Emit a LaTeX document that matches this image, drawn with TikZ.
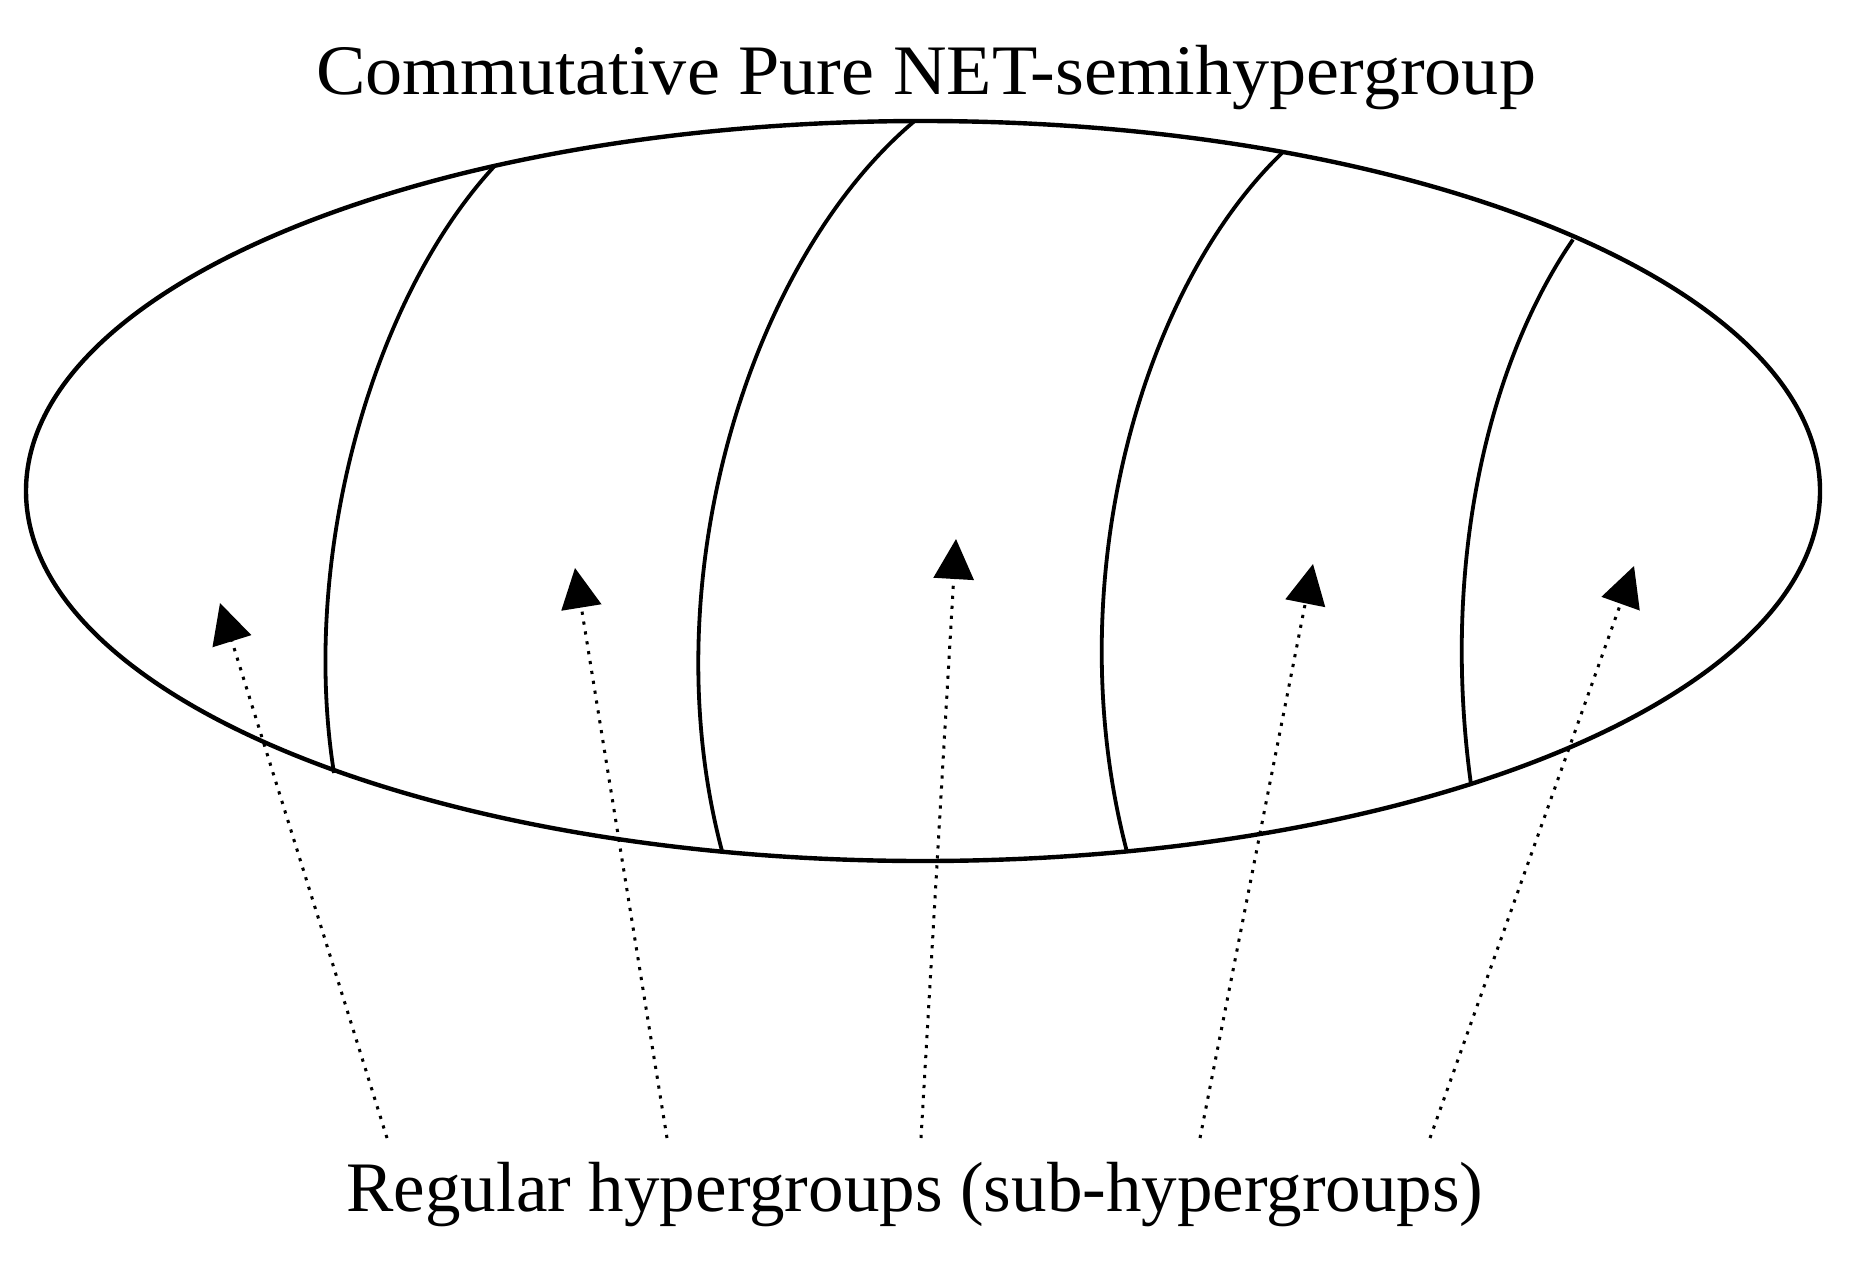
\documentclass[tikz,border=0pt]{standalone}
\usepackage{fontspec}
\setmainfont{Liberation Serif}
\usetikzlibrary{arrows.meta}
\begin{document}
\begin{tikzpicture}[x=0.5pt,y=-0.5pt,
  ellipseline/.style={line width=2.2pt},
  splitline/.style={line width=1.9pt},
  arrowline/.style={line width=1.5pt, dash pattern=on 1.6pt off 3.4pt,
    -{Triangle[length=20pt,width=20pt]}},
  textlabel/.style={font=\fontsize{35.5}{40}\selectfont, inner sep=0pt, anchor=base}]
\useasboundingbox (0,0) rectangle (1850,1269);
% outer ellipse
\draw[ellipseline] (923,491) ellipse [x radius=897, y radius=370];
% dividing curves
\draw[splitline] (495.5,165) .. controls (370,300) and (300,560) .. (334,773);
\draw[splitline] (914,121.5) .. controls (750,260) and (650,580) .. (722,851);
\draw[splitline] (1282,153) .. controls (1140,290) and (1057,585) .. (1127,852);
\draw[splitline] (1573,239.5) .. controls (1490,360) and (1440,560) .. (1471,784.5);
% arrow end points
\coordinate (t1) at (387,1138); \coordinate (h1) at (220,603);
\coordinate (t2) at (667,1138); \coordinate (h2) at (575,568);
\coordinate (t3) at (921,1138); \coordinate (h3) at (956,539);
\coordinate (t4) at (1200,1138); \coordinate (h4) at (1313,564);
\coordinate (t5) at (1430,1138); \coordinate (h5) at (1634,566);
\draw[arrowline] (t1) -- (h1);
\draw[arrowline] (t2) -- (h2);
\draw[arrowline] (t3) -- (h3);
\draw[arrowline] (t4) -- (h4);
\draw[arrowline] (t5) -- (h5);
% texts
\node[textlabel, xscale=1.045] (title) at (926,94) {Commutative Pure NET-semihypergroup};
\node[textlabel] (caption) at (915,1211) {Regular hypergroups (sub-hypergroups)};
\end{tikzpicture}
\end{document}
